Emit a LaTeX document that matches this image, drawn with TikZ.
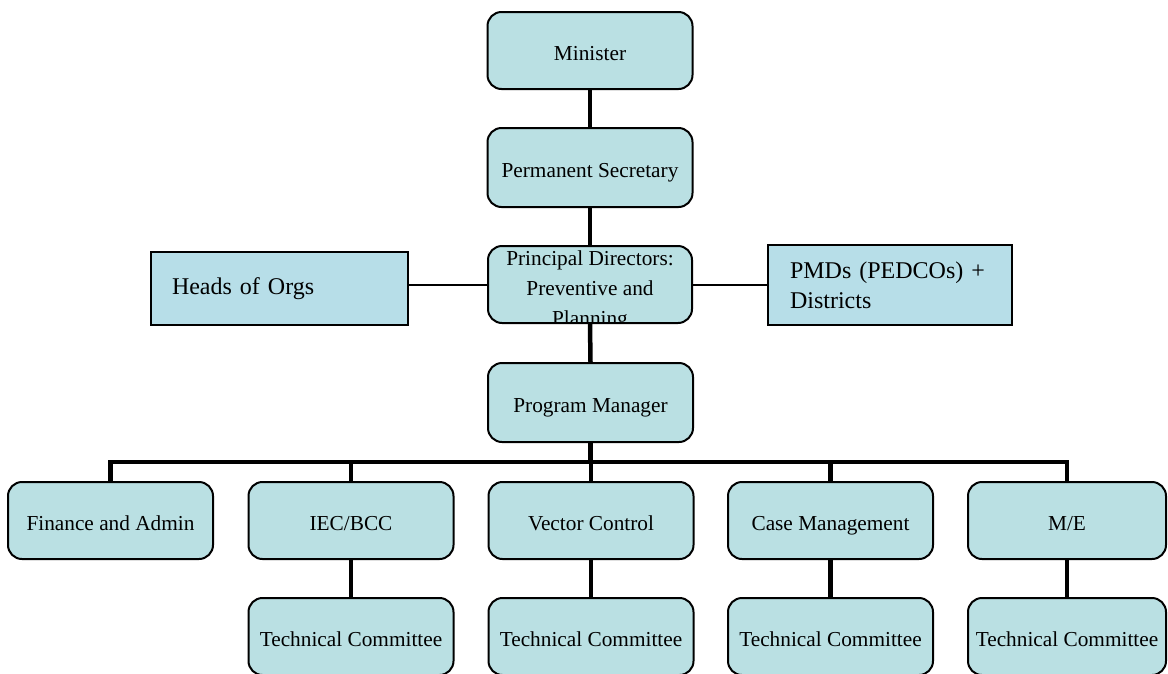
\documentclass[tikz,border=0pt]{standalone}
\usepackage{fontspec}
\setmainfont{Liberation Serif}
\usetikzlibrary{calc,backgrounds}
\definecolor{boxfill}{RGB}{186,224,227}
\definecolor{rectfill}{RGB}{183,222,232}
\tikzset{
  rbox/.style={draw=black, line width=2pt, fill=boxfill, rounded corners=14pt,
    minimum width=205pt, minimum height=77pt, inner sep=0pt,
    text height=20pt, text depth=1pt,
    font=\fontsize{21.3}{25}\selectfont},
  sbox/.style={draw=black, line width=2pt, fill=rectfill, inner sep=0pt,
    font=\fontsize{24}{30}\selectfont, align=left},
  thickline/.style={line width=4.5pt, line join=miter},
  thinline/.style={line width=2pt}
}
\begin{document}
\begin{tikzpicture}[x=1pt,y=-1pt]
\useasboundingbox (0,0) rectangle (1168,673);
\node[rbox, minimum height=77pt] (min) at (590,50.5) {Minister};
\node[rbox, minimum height=79pt] (ps) at (590,167.5) {Permanent Secretary};
\node[rbox, minimum width=204pt] (pd) at (590,284.5) {};
\begin{scope}
  \clip[rounded corners=12pt] ($(pd.south west)+(1,-1)$) rectangle ($(pd.north east)+(-1,1)$);
  \node[font=\fontsize{21.3}{30}\selectfont, align=center] (pdtext) at (590,290) {Principal Directors:\\Preventive and\\Planning};
\end{scope}
\node[sbox, minimum width=257pt, minimum height=73pt, text width=215pt] (hoo) at (279.5,288.5) {Heads of Orgs};
\node[sbox, minimum width=244pt, minimum height=80pt, text width=200pt] (pmd) at (890,285) {\mbox{PMDs (PEDCOs) +}\\Districts};
\node[rbox, minimum height=79pt] (pm) at (590.5,402.5) {Program Manager};

\node[rbox] (fin) at (110.5,520.5) {Finance and Admin};
\node[rbox] (iec) at (351,520.5) {IEC/BCC};
\node[rbox] (vc) at (591,520.5) {Vector Control};
\node[rbox] (cm) at (830.5,520.5) {Case Management};
\node[rbox, minimum width=198pt] (me) at (1067,520.5) {M/E};

\node[rbox] (tc1) at (351,636.5) {Technical Committee};
\node[rbox] (tc2) at (591,636.5) {Technical Committee};
\node[rbox] (tc3) at (830.5,636.5) {Technical Committee};
\node[rbox, minimum width=198pt] (tc4) at (1067,636.5) {Technical Committee};

\coordinate (busy) at (0,462);
\begin{scope}[on background layer]
\draw[thickline] (min.south) -- (ps.north);
\draw[thickline] (ps.south) -- (pd.north);
\draw[thickline] (pd.south) -- (pm.north);
\draw[thinline] (hoo.east |- pd.center) -- (pd.west);
\draw[thinline] (pd.east) -- (pmd.west |- pd.east);
\draw[thickline] (fin.north) -- (fin.north |- busy) -- (me.north |- busy) -- (me.north);
\draw[thickline] (pm.south) -- (pm.south |- busy);
\foreach \n in {iec,vc,cm} \draw[thickline] (\n.north) -- (\n.north |- busy);
\draw[thickline] (iec.south) -- (tc1.north);
\draw[thickline] (vc.south) -- (tc2.north);
\draw[thickline] (cm.south) -- (tc3.north);
\draw[thickline] (me.south) -- (tc4.north);
\end{scope}
\end{tikzpicture}
\end{document}
